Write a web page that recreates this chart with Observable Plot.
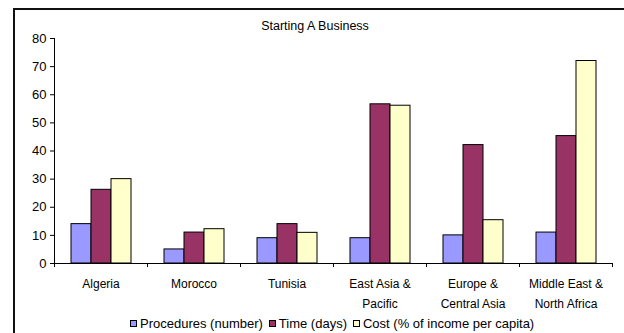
<!DOCTYPE html>
<html>
<head>
<meta charset="utf-8">
<script src="https://cdn.jsdelivr.net/npm/d3@7"></script>
<script src="https://cdn.jsdelivr.net/npm/@observablehq/plot@0.6"></script>
<style>
  html, body { margin: 0; padding: 0; background: #fff; overflow: hidden; width: 624px; height: 333px; }
  body { position: relative; font-family: "Liberation Sans", Arial, sans-serif; }
  #frame { position: absolute; left: 13px; top: 8px; width: 700px; height: 400px; border-left: 2px solid #111; border-top: 2px solid #111; box-sizing: border-box; }
  #title { position: absolute; top: 19px; left: 0; width: 630px; text-align: center; font-size: 12.5px; color: #000; }
  #chart { position: absolute; left: 0; top: 30px; }
  #legend { position: absolute; top: 316px; left: 130px; height: 15px; display: flex; align-items: center; font-size: 13px; color: #000; white-space: nowrap; }
  .item { display: flex; align-items: center; margin-right: 6px; }
  .sw { width: 5px; height: 5px; border: 1px solid #000; margin-right: 3px; }
</style>
</head>
<body>
<div id="frame"></div>
<div id="title"></div>
<div id="chart"></div>
<div id="legend"></div>
<script>
const title = "Starting A Business";
const categories = ["Algeria", "Morocco", "Tunisia", "East Asia & Pacific", "Europe & Central Asia", "Middle East & North Africa"];
const tickLabels = ["Algeria", "Morocco", "Tunisia", "East Asia &\nPacific", "Europe &\nCentral Asia", "Middle East &\nNorth Africa"];
const series = ["Procedures (number)", "Time (days)", "Cost (% of income per capita)"];
const procedures = [14, 5, 9, 9, 10, 11];
const time = [26.2, 11, 14, 56.6, 42.1, 45.3];
const cost = [30, 12.2, 10.9, 56.1, 15.4, 72];
const colors = ["#9999FF", "#993366", "#FFFFCC"];
const yTicks = [0, 10, 20, 30, 40, 50, 60, 70, 80];

const valuesBySeries = [procedures, time, cost];
const data = [];
categories.forEach((c, i) => {
  series.forEach((s, j) => data.push({category: c, series: s, value: valuesBySeries[j][i]}));
});

document.getElementById("title").textContent = title;

const plot = Plot.plot({
  width: 624,
  height: 295,
  marginTop: 8,
  marginBottom: 62,
  marginLeft: 51,
  marginRight: 10,
  style: {fontFamily: "'Liberation Sans', Arial, sans-serif", fontSize: "12px", color: "#000", background: "transparent"},
  fx: {domain: categories, padding: 0, label: null},
  x: {domain: series, paddingInner: 0, paddingOuter: 0.72, axis: null},
  y: {domain: [0, 80], label: null},
  color: {domain: series, range: colors},
  marks: [
    Plot.barY(data, {fx: "category", x: "series", y: "value", fill: "series", stroke: "#000", strokeWidth: 1}),
    Plot.ruleY([0], {stroke: "#000"}),
    Plot.axisY({ticks: yTicks, tickSize: 4, tickPadding: 4, label: null, fontSize: 13, stroke: "#000"}),
    Plot.axisFx({anchor: "bottom", tickSize: 0, tickPadding: 10, label: null, fontSize: 12, lineHeight: 1.67,
      tickFormat: d => tickLabels[categories.indexOf(d)]})
  ]
});
document.getElementById("chart").appendChild(plot);

// Y axis line and category boundary ticks, from the plot's own scales
const fx = plot.scale("fx");
const y = plot.scale("y");
const svg = d3.select(plot);
const g = svg.append("g").attr("stroke", "#000").attr("stroke-width", 1);
const x0 = fx.apply(categories[0]);
g.append("line").attr("x1", x0 + 0.5).attr("x2", x0 + 0.5).attr("y1", y.apply(80)).attr("y2", y.apply(0));
categories.forEach((c) => {
  const left = fx.apply(c);
  const right = left + fx.step;
  [left, right].forEach(xx => {
    g.append("line").attr("x1", xx + 0.5).attr("x2", xx + 0.5).attr("y1", y.apply(0)).attr("y2", y.apply(0) + 4);
  });
});

const legend = document.getElementById("legend");
series.forEach((s, j) => {
  const item = document.createElement("div");
  item.className = "item";
  const sw = document.createElement("div");
  sw.className = "sw";
  sw.style.background = colors[j];
  const t = document.createElement("span");
  t.textContent = s;
  item.appendChild(sw);
  item.appendChild(t);
  legend.appendChild(item);
});
</script>
</body>
</html>
